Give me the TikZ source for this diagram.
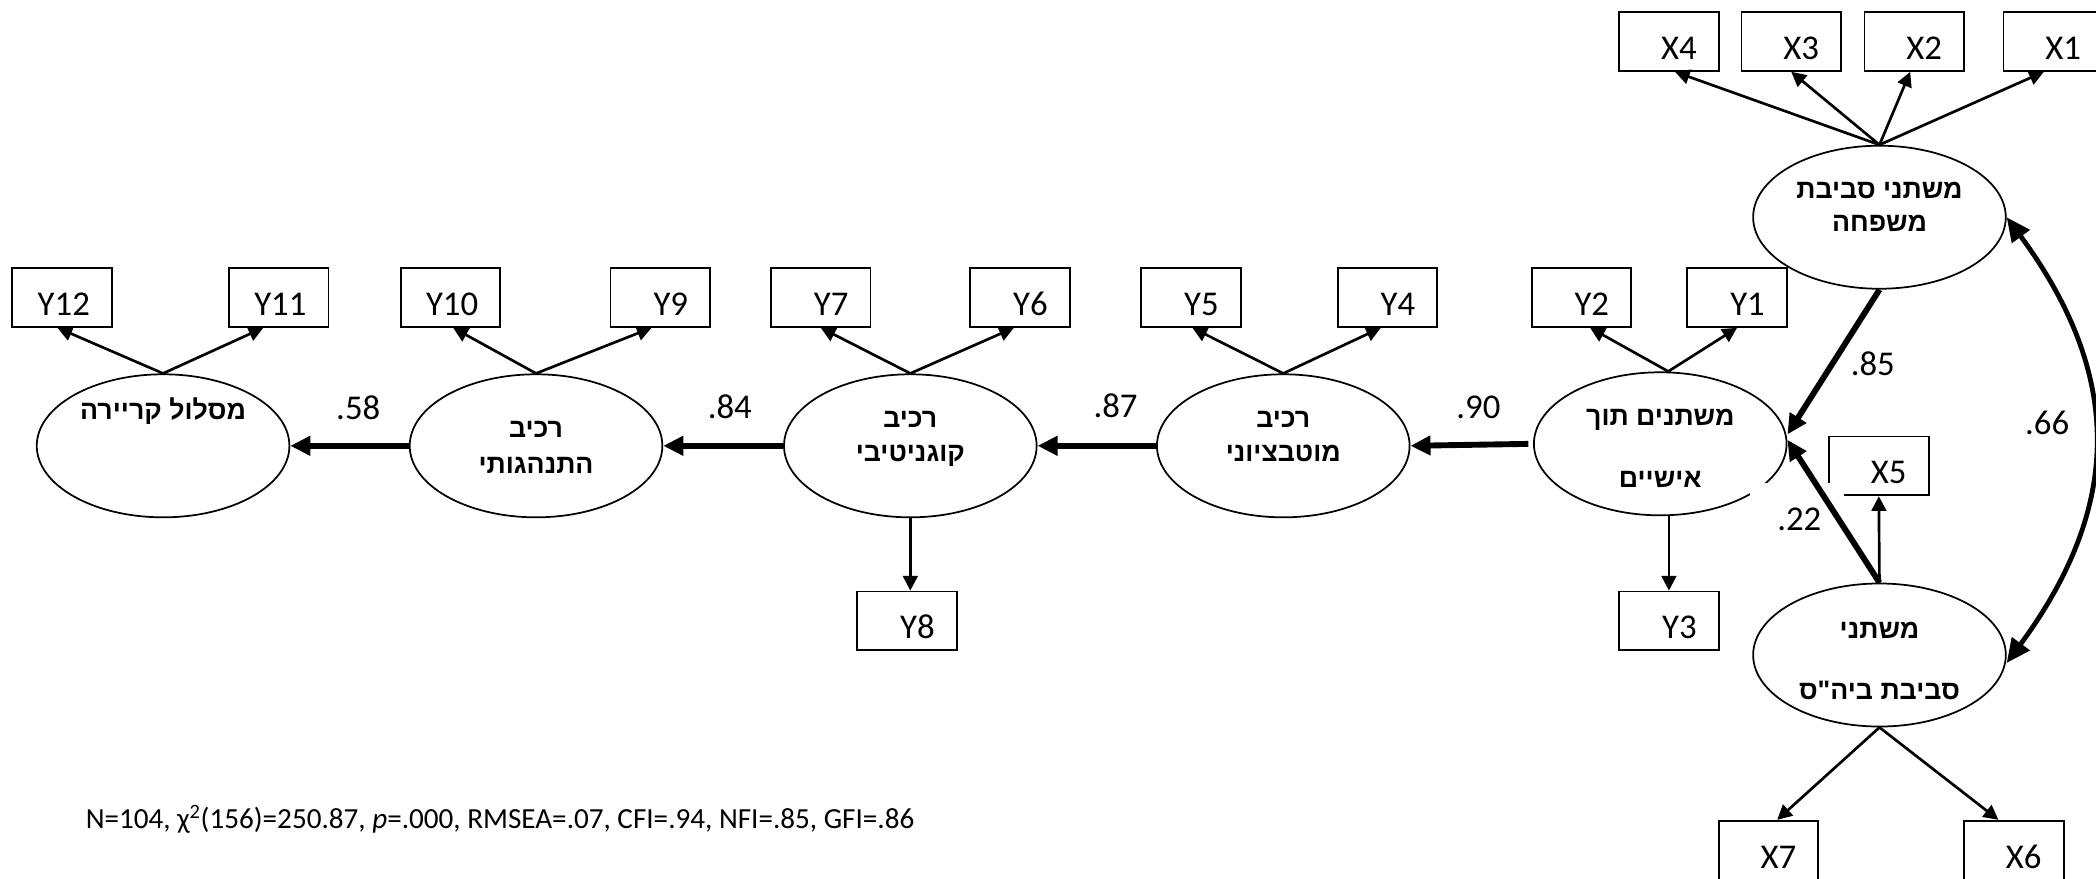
\documentclass[tikz,border=0pt]{standalone}
\usepackage{fontspec}
\setmainfont{Carlito}
\newfontfamily\hebfont[Script=Hebrew]{Liberation Sans Bold}
\TeXXeTstate=1
\usetikzlibrary{arrows.meta,calc,shapes.geometric}
\newcommand\heb[1]{{\hebfont\fontsize{20}{24}\selectfont\beginR #1\endR}}
\newcommand\obslabel[1]{\makebox[41.5pt][r]{#1}}
\tikzset{
  latent/.style={draw, ellipse, line width=1.3pt, minimum width=189pt, minimum height=107pt, inner sep=0pt},
  obs/.style={draw, rectangle, line width=1.4pt, minimum width=74.5pt, minimum height=44pt,
    inner xsep=16.5pt, inner ysep=0pt, text height=35.5pt, text depth=8.5pt,
    font=\fontsize{26}{30}\selectfont},
  htext/.style={anchor=base, inner sep=0pt},
  coef/.style={anchor=base, inner sep=0pt, font=\fontsize{26}{30}\selectfont},
  loadarrow/.style={line width=2pt, -{Triangle[length=11pt,width=11pt]}},
  regpath/.style={line width=4.4pt, -{Triangle[length=15pt,width=14pt]}},
  corrarrow/.style={line width=3.6pt, {Triangle[length=18pt,width=16pt]}-{Triangle[length=18pt,width=16pt]}},
}
\begin{document}
\begin{tikzpicture}[x=1pt,y=-1pt]
\useasboundingbox (0,0) rectangle (1568,657);
\fill[white] (0,0) rectangle (1568,657);

% latent variables
\node[latent] (career) at (122,333.5) {};
\node[latent] (behav)  at (401,333.5) {};
\node[latent] (cog)    at (681,333.5) {};
\node[latent] (motiv)  at (960,333.5) {};
\node[latent] (inner)  at (1242,332) {};
\node[latent] (fam)    at (1406,162.5) {};
\node[latent] (school) at (1406,490) {};

% latent labels
\node[htext] (tcareer) at (122,313.5) {\heb{מסלול קריירה}};
\node[htext] (tbehava) at (401,327.5) {\heb{רכיב}};
\node[htext] (tbehavb) at (401,354.5) {\heb{התנהגותי}};
\node[htext] (tcoga)   at (681,319.5) {\heb{רכיב}};
\node[htext] (tcogb)   at (681,345.5) {\heb{קוגניטיבי}};
\node[htext] (tmota)   at (960,319.5) {\heb{רכיב}};
\node[htext] (tmotb)   at (960,345.5) {\heb{מוטבציוני}};
\node[htext] (tinna)   at (1242,318.5) {\heb{משתנים תוך}};
\node[htext] (tinnb)   at (1242,364.5) {\heb{אישיים}};
\node[htext] (tfama)   at (1406,148.5) {\heb{משתני סביבת}};
\node[htext] (tfamb)   at (1406,173.5) {\heb{משפחה}};
\node[htext] (tscha)   at (1406,477.5) {\heb{משתני}};
\node[htext] (tschb)   at (1406,523.5) {\heb{סביבת ביה"ס}};

% observed variables
\node[obs] (X4)  at (1248.5,31) {\obslabel{X4}};
\node[obs] (X3)  at (1340,31)   {\obslabel{X3}};
\node[obs] (X2)  at (1432,31)   {\obslabel{X2}};
\node[obs] (X1)  at (1536,31)   {\obslabel{X1}};
\node[obs] (Y12) at (46.5,222.5) {\obslabel{Y12}};
\node[obs] (Y11) at (208.5,222.5) {\obslabel{Y11}};
\node[obs] (Y10) at (337,222.5) {\obslabel{Y10}};
\node[obs] (Y9)  at (494,222.5) {\obslabel{Y9}};
\node[obs] (Y7)  at (614,222.5) {\obslabel{Y7}};
\node[obs] (Y6)  at (763,222.5) {\obslabel{Y6}};
\node[obs] (Y5)  at (891,222.5) {\obslabel{Y5}};
\node[obs] (Y4)  at (1038,222.5) {\obslabel{Y4}};
\node[obs] (Y2)  at (1183,222.5) {\obslabel{Y2}};
\node[obs] (Y1)  at (1299.5,222.5) {\obslabel{Y1}};
\node[obs] (Y8)  at (678.5,464.5) {\obslabel{Y8}};
\node[obs] (Y3)  at (1248.5,464.5) {\obslabel{Y3}};
\node[obs] (X5)  at (1405.5,348.5) {\obslabel{X5}};
\node[obs] (X7)  at (1323,636) {\obslabel{X7}};
\node[obs] (X6)  at (1506.5,636) {\obslabel{X6}};

% gap in the outlines, as in the original
\fill[white] (1309,361.5) rectangle (1379.5,371.8);

% loadings
\draw[loadarrow] (career.north) -- ($(Y12.south)+(-3.5,0)$);
\draw[loadarrow] (career.north) -- ($(Y11.south)+(-11.5,0)$);
\draw[loadarrow] (behav.north) -- ($(Y10.south)+(2,0)$);
\draw[loadarrow] (behav.north) -- ($(Y9.south)+(-6.5,0)$);
\draw[loadarrow] (cog.north) -- (Y7.south);
\draw[loadarrow] (cog.north) -- ($(Y6.south)+(-4.5,0)$);
\draw[loadarrow] (cog.south) -- (cog.south |- Y8.north);
\draw[loadarrow] (motiv.north) -- ($(Y5.south)+(1,0)$);
\draw[loadarrow] (motiv.north) -- ($(Y4.south)+(-5,0)$);
\draw[loadarrow] ($(inner.north)+(6,0)$) -- ($(Y2.south)+(6.5,0)$);
\draw[loadarrow] ($(inner.north)+(6,0)$) -- (Y1.south);
\draw[loadarrow] (inner.south -| Y3.north) -- (Y3.north);
\draw[loadarrow] (fam.north) -- ($(X4.south)+(4.5,0)$);
\draw[loadarrow] (fam.north) -- (X3.south);
\draw[loadarrow] (fam.north) -- ($(X2.south)+(-3,0)$);
\draw[loadarrow] (fam.north) -- ($(X1.south)+(-7,0)$);
\draw[loadarrow] (school.north) -- (X5.south);
\draw[loadarrow] (school.south) -- ($(X7.north)+(6.5,0)$);
\draw[loadarrow] (school.south) -- ($(X6.north)+(-11.5,0)$);

% structural paths
\draw[regpath] (behav.west) -- (career.east);
\draw[regpath] (cog.west) -- (behav.east);
\draw[regpath] (motiv.west) -- (cog.east);
\draw[regpath, shorten <=3.5pt] (inner.west) -- (motiv.east);
\draw[regpath] (fam.south) -- ($(inner.east)+(0,-7)$);
\draw[regpath] (school.north) -- ($(inner.east)+(0,-3)$);
\draw[corrarrow] (fam.east) .. controls +(87,118) and +(87,-118) .. ($(school.east)+(0,6)$);

% coefficients
\node[coef] (c58) at (268,314) {.58};
\node[coef] (c84) at (546,313) {.84};
\node[coef] (c87) at (834.5,312) {.87};
\node[coef] (c90) at (1106,313) {.90};
\node[coef] (c85) at (1401,281) {.85};
\node[coef] (c66) at (1531.5,325) {.66};
\node[coef] (c22) at (1346,397) {.22};

% fit indices
\node[anchor=base west, inner sep=0pt, font=\fontsize{21.8}{26}\selectfont] (fit) at (64,619.5)
  {N=104, χ\textsuperscript{2}(156)=250.87, \textit{p}=.000, RMSEA=.07, CFI=.94, NFI=.85, GFI=.86};
\end{tikzpicture}
\end{document}
